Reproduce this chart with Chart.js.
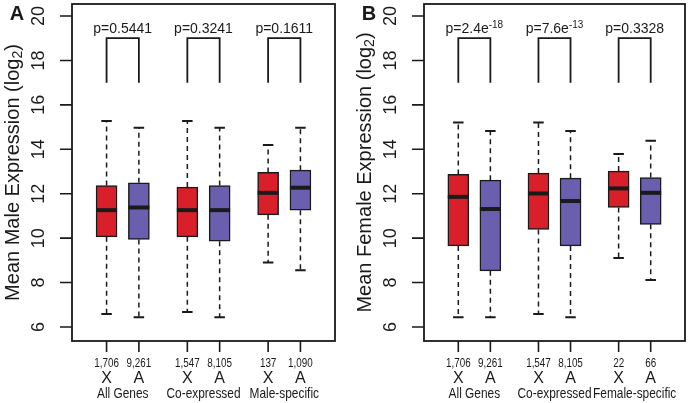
<!DOCTYPE html>
<html>
<head>
<meta charset="utf-8">
<script src="https://cdn.jsdelivr.net/npm/chart.js@4.4.1/dist/chart.umd.min.js"></script>
<style>
  body { margin: 0; background: #fff; }
  .row { display: flex; width: 689px; height: 403px; }
  canvas { display: block; }
</style>
</head>
<body>
<div class="row">
  <canvas id="maleChart" width="345" height="403"></canvas>
  <canvas id="femaleChart" width="344" height="403"></canvas>
</div>
<script>
// --- data ---
const positions = [1, 2, 3.5, 4.5, 6, 7];
const chromTypes = ['X', 'A', 'X', 'A', 'X', 'A'];
const yTicks = [6, 8, 10, 12, 14, 16, 18, 20];

const maleGroups = ['All Genes', 'Co-expressed', 'Male-specific'];
const maleCounts = [1706, 9261, 1547, 8105, 137, 1090];
const maleLow  = [6.59, 6.44, 6.67, 6.44, 8.90, 8.56];
const maleQ1   = [10.06, 9.94, 10.06, 9.86, 11.05, 11.26];
const maleMed  = [11.26, 11.38, 11.26, 11.26, 12.04, 12.27];
const maleQ3   = [12.37, 12.49, 12.30, 12.37, 12.96, 13.06];
const maleHigh = [15.27, 14.97, 15.27, 14.97, 14.19, 14.97];
const maleP    = ['p=0.5441', 'p=0.3241', 'p=0.1611'];

const femaleGroups = ['All Genes', 'Co-expressed', 'Female-specific'];
const femaleCounts = [1706, 9261, 1547, 8105, 22, 66];
const femaleLow  = [6.44, 6.44, 6.59, 6.44, 9.11, 8.12];
const femaleQ1   = [9.65, 8.53, 10.39, 9.65, 11.38, 10.62];
const femaleMed  = [11.86, 11.31, 12.01, 11.67, 12.24, 12.04];
const femaleQ3   = [12.87, 12.61, 12.93, 12.70, 13.02, 12.73];
const femaleHigh = [15.21, 14.82, 15.21, 14.82, 13.79, 14.38];
const femaleP    = ['p=2.4e^-18', 'p=7.6e^-13', 'p=0.3328'];

const RED = '#D9202A';
const PURPLE = '#6A5FAE';
const INK = '#1a1a1a';
const SANS = '"Liberation Sans", Arial, sans-serif';

const BOX_PX = 21;

// squeeze text horizontally (the figure uses a narrow face for x labels)
function fillNarrow(ctx, text, x, y, k) {
    ctx.save();
    ctx.translate(x, y);
    ctx.scale(k, 1);
    ctx.fillText(text, 0, 0);
    ctx.restore();
}

// whiskers, medians, brackets, axes and labels
const boxExtras = {
    id: 'boxExtras',
    afterDatasetsDraw(chart, args, o) {
        const { ctx, scales: { x, y } } = chart;
        ctx.save();
        ctx.strokeStyle = INK;
        positions.forEach((p, i) => {
            const px = x.getPixelForValue(p);
            // dashed whiskers
            ctx.lineWidth = 1.5;
            ctx.setLineDash([5, 4]);
            ctx.beginPath();
            ctx.moveTo(px, y.getPixelForValue(o.q3[i]));
            ctx.lineTo(px, y.getPixelForValue(o.high[i]));
            ctx.moveTo(px, y.getPixelForValue(o.q1[i]));
            ctx.lineTo(px, y.getPixelForValue(o.low[i]));
            ctx.stroke();
            ctx.setLineDash([]);
            // caps
            ctx.lineWidth = 2;
            ctx.beginPath();
            [o.high[i], o.low[i]].forEach(v => {
                const py = y.getPixelForValue(v);
                ctx.moveTo(px - BOX_PX / 4, py);
                ctx.lineTo(px + BOX_PX / 4, py);
            });
            ctx.stroke();
            // median
            ctx.lineWidth = 4;
            ctx.beginPath();
            const my = y.getPixelForValue(o.med[i]);
            ctx.moveTo(px - BOX_PX / 2, my);
            ctx.lineTo(px + BOX_PX / 2, my);
            ctx.stroke();
        });

        // brackets + p values
        ctx.lineWidth = 1.8;
        for (let g = 0; g < 3; g++) {
            const x1 = x.getPixelForValue(positions[g * 2]);
            const x2 = x.getPixelForValue(positions[g * 2 + 1]);
            const yb = y.getPixelForValue(17);
            const yt = y.getPixelForValue(19);
            ctx.beginPath();
            ctx.moveTo(x1, yb); ctx.lineTo(x1, yt); ctx.lineTo(x2, yt); ctx.lineTo(x2, yb);
            ctx.stroke();

            const parts = o.pvals[g].split('^');
            ctx.fillStyle = INK;
            ctx.textBaseline = 'middle';
            ctx.textAlign = 'left';
            ctx.font = '14px ' + SANS;
            const w1 = ctx.measureText(parts[0]).width;
            ctx.font = '10px ' + SANS;
            const w2 = parts[1] ? ctx.measureText(parts[1]).width : 0;
            let tx = (x1 + x2) / 2 - (w1 + w2) / 2;
            const ty = y.getPixelForValue(19.4);
            ctx.font = '14px ' + SANS;
            ctx.fillText(parts[0], tx, ty);
            if (parts[1]) {
                ctx.font = '10px ' + SANS;
                ctx.fillText(parts[1], tx + w1, ty - 4);
            }
        }
        ctx.restore();
    },
    afterDraw(chart, args, o) {
        const { ctx, chartArea: area, scales: { x, y } } = chart;
        ctx.save();
        ctx.strokeStyle = INK;
        ctx.fillStyle = INK;
        ctx.lineWidth = 1.8;
        ctx.strokeRect(area.left, area.top, area.right - area.left, area.bottom - area.top);

        // y axis ticks, rotated labels
        ctx.lineWidth = 1.6;
        ctx.beginPath();
        yTicks.forEach(v => {
            const py = y.getPixelForValue(v);
            ctx.moveTo(area.left - 12, py);
            ctx.lineTo(area.left, py);
        });
        ctx.stroke();
        ctx.font = '18px ' + SANS;
        ctx.textAlign = 'center';
        ctx.textBaseline = 'middle';
        yTicks.forEach(v => {
            ctx.save();
            ctx.translate(area.left - 33, y.getPixelForValue(v));
            ctx.rotate(-Math.PI / 2);
            ctx.fillText(String(v), 0, 0);
            ctx.restore();
        });

        // y title with subscript
        ctx.save();
        ctx.translate(area.left - 59, (area.top + area.bottom) / 2);
        ctx.rotate(-Math.PI / 2);
        ctx.textAlign = 'left';
        const main = o.title + ' (log';
        ctx.font = '20px ' + SANS;
        const a = ctx.measureText(main).width;
        const c = ctx.measureText(')').width;
        ctx.font = '14px ' + SANS;
        const b = ctx.measureText('2').width;
        let tx = -(a + b + c) / 2;
        ctx.font = '20px ' + SANS;
        ctx.fillText(main, tx, 0);
        ctx.font = '14px ' + SANS;
        ctx.fillText('2', tx + a, 5);
        ctx.font = '20px ' + SANS;
        ctx.fillText(')', tx + a + b, 0);
        ctx.restore();

        // panel letter
        ctx.font = 'bold 20px ' + SANS;
        ctx.fillText(o.letter, area.left - 55, area.top + 10);

        // x ticks and labels
        ctx.lineWidth = 1.6;
        ctx.beginPath();
        positions.forEach(p => {
            const px = x.getPixelForValue(p);
            ctx.moveTo(px, area.bottom);
            ctx.lineTo(px, area.bottom + 11);
        });
        ctx.stroke();
        positions.forEach((p, i) => {
            const px = x.getPixelForValue(p);
            ctx.font = '12px ' + SANS;
            fillNarrow(ctx, o.counts[i].toLocaleString('en-US'), px, area.bottom + 23, 0.82);
            ctx.font = '16px ' + SANS;
            ctx.fillText(chromTypes[i], px, area.bottom + 38);
        });
        ctx.font = '14.5px ' + SANS;
        o.groups.forEach((g, k) => {
            const mid = (x.getPixelForValue(positions[k * 2]) + x.getPixelForValue(positions[k * 2 + 1])) / 2;
            fillNarrow(ctx, g, mid, area.bottom + 53, 0.82);
        });
        ctx.restore();
    }
};

function makePanel(id, cfg, padding) {
    const ctx = document.getElementById(id).getContext('2d');
    return new Chart(ctx, {
        type: 'bar',
        data: {
            datasets: [{
                data: positions.map((p, i) => ({ x: p, y: [cfg.q1[i], cfg.q3[i]] })),
                backgroundColor: chromTypes.map(t => t === 'X' ? RED : PURPLE),
                borderColor: INK,
                borderWidth: 1.5,
                borderSkipped: false,
                barThickness: BOX_PX
            }]
        },
        options: {
            responsive: false,
            animation: false,
            devicePixelRatio: 1,
            layout: { padding },
            plugins: {
                legend: { display: false },
                tooltip: { enabled: false },
                boxExtras: cfg
            },
            scales: {
                x: { type: 'linear', min: -0.07, max: 8.07, offset: false, display: false },
                y: { min: 5.37, max: 20.54, display: false }
            }
        },
        plugins: [boxExtras]
    });
}

makePanel('maleChart', {
    letter: 'A', title: 'Mean Male Expression',
    low: maleLow, q1: maleQ1, med: maleMed, q3: maleQ3, high: maleHigh,
    counts: maleCounts, groups: maleGroups, pvals: maleP
}, { left: 72, right: 10, top: 4, bottom: 62 });

makePanel('femaleChart', {
    letter: 'B', title: 'Mean Female Expression',
    low: femaleLow, q1: femaleQ1, med: femaleMed, q3: femaleQ3, high: femaleHigh,
    counts: femaleCounts, groups: femaleGroups, pvals: femaleP
}, { left: 79, right: 4, top: 4, bottom: 62 });
</script>
</body>
</html>
